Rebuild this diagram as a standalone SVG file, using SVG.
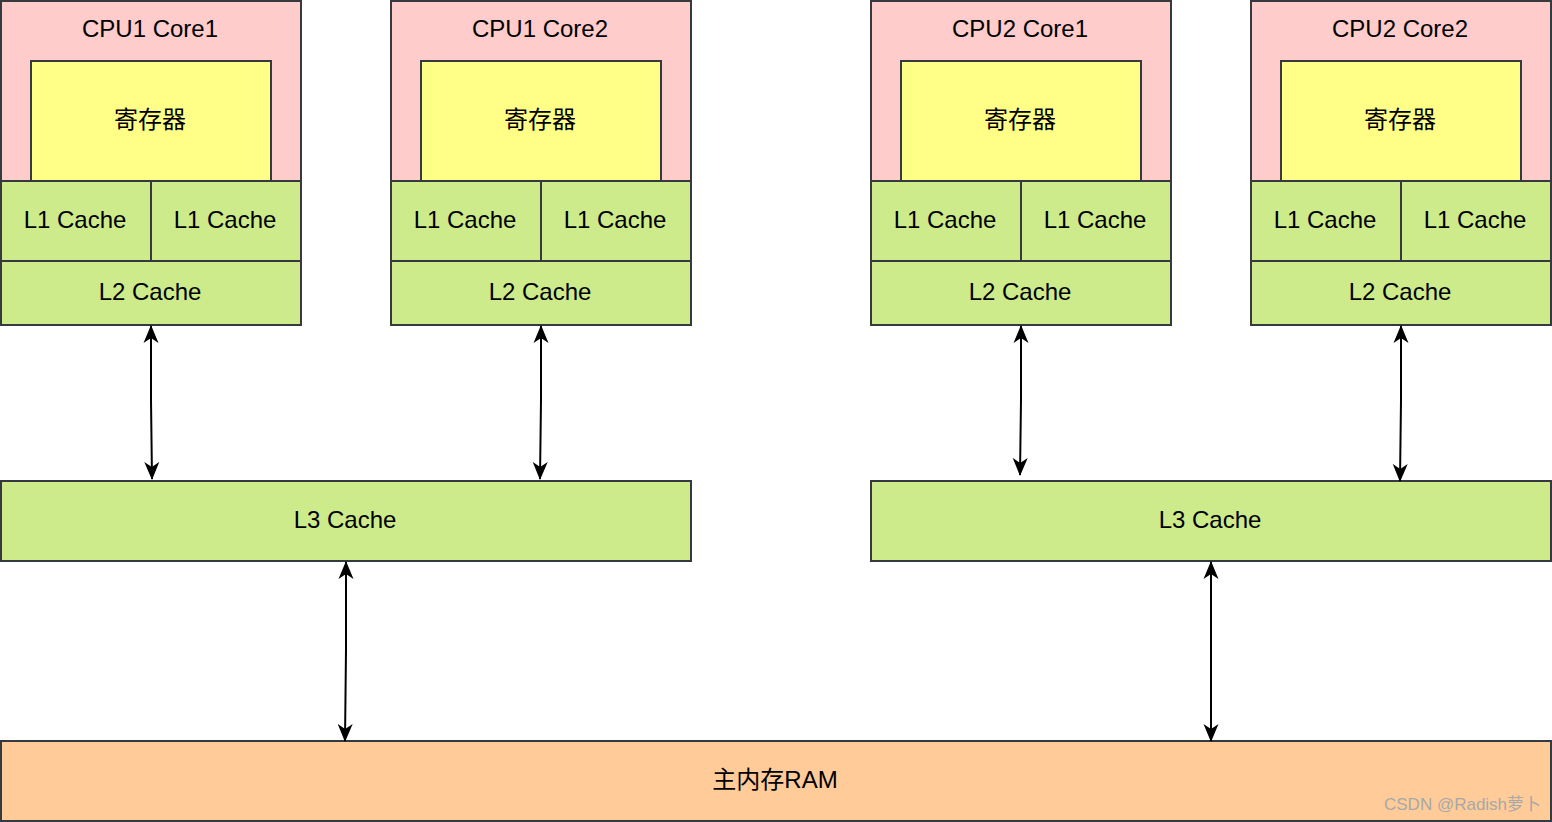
<svg xmlns="http://www.w3.org/2000/svg" width="1552" height="822" viewBox="0 0 1552 822">
<style>
.b{stroke:#36393d;stroke-width:2}
.pink{fill:#ffcccc}
.yel{fill:#ffff88}
.grn{fill:#cdeb8b}
.org{fill:#ffcc99}
text{font-family:"Liberation Sans","Noto Sans CJK SC",Arial,sans-serif;font-size:24px;fill:#000;text-anchor:middle}
.c{stroke:#000;stroke-width:2;fill:none;marker-start:url(#a);marker-end:url(#a)}
.wm{font-size:17px;fill:#a8a8a8;text-anchor:start}
</style>
<defs>
<marker id="a" markerUnits="userSpaceOnUse" viewBox="0 0 18 16" refX="17" refY="8" markerWidth="18" markerHeight="16" orient="auto-start-reverse">
<path d="M0,0.5 L18,8 L0,15.5 L5,8 Z" fill="#000"/>
</marker>
</defs>
<rect width="1552" height="822" fill="#fff"/>
<g id="cpu1core1">
<rect class="b pink" x="1" y="1" width="300" height="180"/>
<text x="150" y="37">CPU1 Core1</text>
<rect class="b yel" x="31" y="61" width="240" height="120"/>
<text x="150" y="128">寄存器</text>
<rect class="b grn" x="1" y="181" width="150" height="80"/>
<text x="75" y="228">L1 Cache</text>
<rect class="b grn" x="151" y="181" width="150" height="80"/>
<text x="225" y="228">L1 Cache</text>
<rect class="b grn" x="1" y="261" width="300" height="64"/>
<text x="150" y="300">L2 Cache</text>
</g>
<g id="cpu1core2">
<rect class="b pink" x="391" y="1" width="300" height="180"/>
<text x="540" y="37">CPU1 Core2</text>
<rect class="b yel" x="421" y="61" width="240" height="120"/>
<text x="540" y="128">寄存器</text>
<rect class="b grn" x="391" y="181" width="150" height="80"/>
<text x="465" y="228">L1 Cache</text>
<rect class="b grn" x="541" y="181" width="150" height="80"/>
<text x="615" y="228">L1 Cache</text>
<rect class="b grn" x="391" y="261" width="300" height="64"/>
<text x="540" y="300">L2 Cache</text>
</g>
<g id="cpu2core1">
<rect class="b pink" x="871" y="1" width="300" height="180"/>
<text x="1020" y="37">CPU2 Core1</text>
<rect class="b yel" x="901" y="61" width="240" height="120"/>
<text x="1020" y="128">寄存器</text>
<rect class="b grn" x="871" y="181" width="150" height="80"/>
<text x="945" y="228">L1 Cache</text>
<rect class="b grn" x="1021" y="181" width="150" height="80"/>
<text x="1095" y="228">L1 Cache</text>
<rect class="b grn" x="871" y="261" width="300" height="64"/>
<text x="1020" y="300">L2 Cache</text>
</g>
<g id="cpu2core2">
<rect class="b pink" x="1251" y="1" width="300" height="180"/>
<text x="1400" y="37">CPU2 Core2</text>
<rect class="b yel" x="1281" y="61" width="240" height="120"/>
<text x="1400" y="128">寄存器</text>
<rect class="b grn" x="1251" y="181" width="150" height="80"/>
<text x="1325" y="228">L1 Cache</text>
<rect class="b grn" x="1401" y="181" width="150" height="80"/>
<text x="1475" y="228">L1 Cache</text>
<rect class="b grn" x="1251" y="261" width="300" height="64"/>
<text x="1400" y="300">L2 Cache</text>
</g>
<g id="l3cpu1">
<rect class="b grn" x="1" y="481" width="690" height="80"/>
<text x="345" y="528">L3 Cache</text>
</g>
<g id="l3cpu2">
<rect class="b grn" x="871" y="481" width="680" height="80"/>
<text x="1210" y="528">L3 Cache</text>
</g>
<g id="ram">
<rect class="b org" x="1" y="741" width="1550" height="80"/>
<text x="775" y="788">主内存RAM</text>
</g>
<g id="connectors">
<path class="c" d="M151,326 L151,400 L152,479"/>
<path class="c" d="M541,326 L541,400 L540,479"/>
<path class="c" d="M1021,326 L1021,400 L1020,475"/>
<path class="c" d="M1401,326 L1401,400 L1400,481"/>
<path class="c" d="M346,562 L346,650 L345,741"/>
<path class="c" d="M1211,562 L1211,650 L1211,741"/>
</g>
<text class="wm" x="1384" y="810">CSDN @Radish萝卜</text>
</svg>
